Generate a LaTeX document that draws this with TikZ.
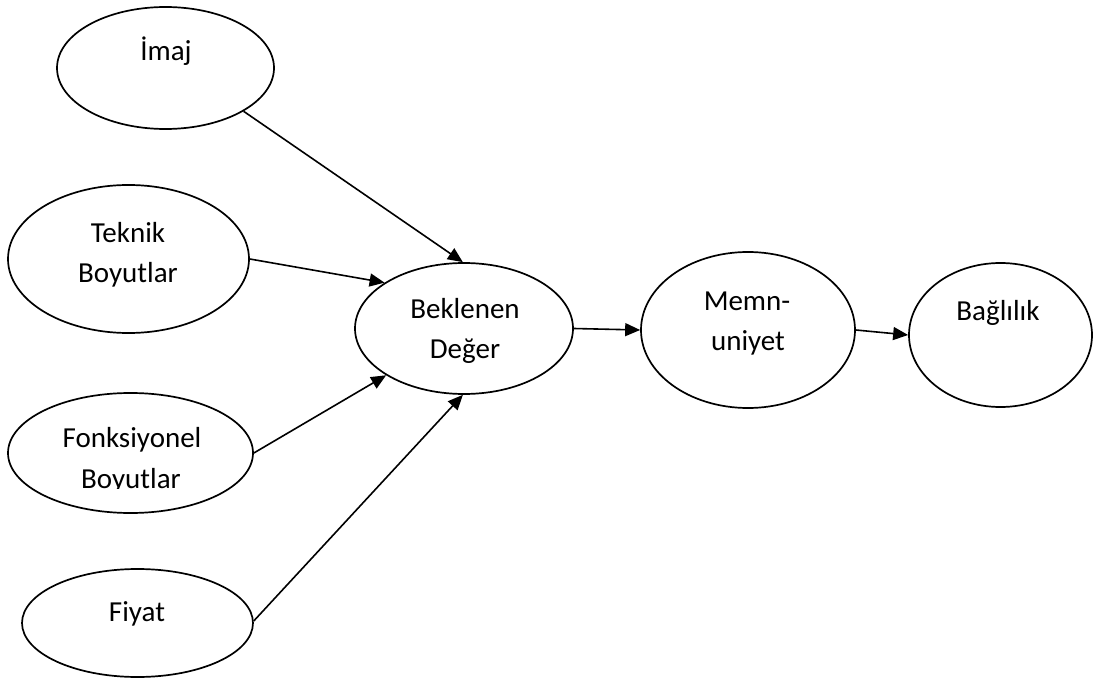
\documentclass[tikz,border=0pt]{standalone}
\usepackage{fontspec}
\setmainfont{Carlito}
\usetikzlibrary{arrows.meta,shapes.geometric}

\begin{document}
\begin{tikzpicture}[x=1pt, y=-1pt,
  bubble/.style={draw, ellipse, line width=1.7pt, inner sep=0pt},
  lbl/.style={anchor=base, inner sep=0pt, font=\fontsize{29}{40}\selectfont},
  link/.style={line width=1.6pt, -{Triangle[length=15pt, width=13pt]}}
]
\useasboundingbox (0,0) rectangle (1093,679);

% ellipses
\node[bubble, minimum width=217pt, minimum height=122pt] (imaj)  at (165.5,68) {};
\node[bubble, minimum width=241pt, minimum height=148pt] (tek)   at (128.5,259) {};
\node[bubble, minimum width=245pt, minimum height=120pt] (fonk)  at (130.5,453) {};
\node[bubble, minimum width=231pt, minimum height=108pt] (fiyat) at (137.5,623) {};
\node[bubble, minimum width=218pt, minimum height=131pt] (bek)   at (464,328.5) {};
\node[bubble, minimum width=214pt, minimum height=156pt] (mem)   at (748,330) {};
\node[bubble, minimum width=183pt, minimum height=144pt] (bag)   at (1000.5,335) {};

% labels
\node[lbl] (timaj) at (166,61) {İmaj};
\node[lbl] (ttek1) at (128,243) {Teknik};
\node[lbl] (ttek2) at (128,283) {Boyutlar};
\node[lbl] (tfonk1) at (132,447) {Fonksiyonel};
\begin{scope}
  \clip (0,400) rectangle (260,488.5);
  \node[lbl] (tfonk2) at (131,488) {Boyutlar};
\end{scope}
\node[lbl] (tfiyat) at (137,621) {Fiyat};
\node[lbl] (tbek1) at (465,318) {Beklenen};
\node[lbl] (tbek2) at (465,358) {Değer};
\node[lbl] (tmem1) at (747,310) {Memn-};
\node[lbl] (tmem2) at (748,350) {uniyet};
\node[lbl] (tbag) at (998,320) {Bağlılık};

% connectors
\draw[link] (imaj.-29.6) -- (bek.91);
\draw[link] (tek.0) -- (bek.150);
\draw[link] (fonk.0) -- (bek.211);
\draw[link] (fiyat.1.5) -- (bek.269);
\draw[link] (bek.0) -- (mem.180.5);
\draw[link] (mem.-0.5) -- (bag.180);
\end{tikzpicture}
\end{document}
